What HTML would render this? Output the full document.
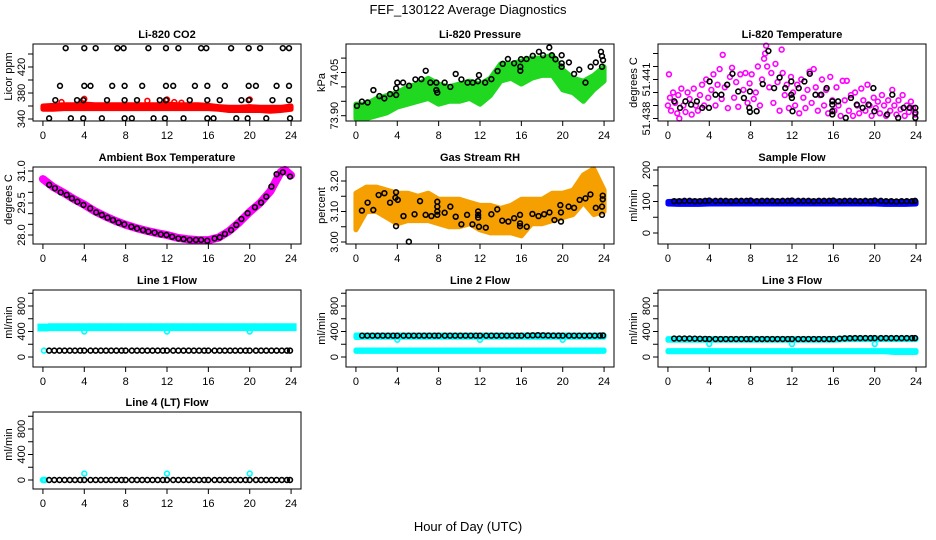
<!DOCTYPE html>
<html><head><meta charset="utf-8"><style>
html,body{margin:0;padding:0;background:#fff;}
svg{display:block;font-family:"Liberation Sans",Arial,sans-serif;}
</style></head><body>
<svg id="chart" width="936" height="540" viewBox="0 0 936 540">
<rect width="936" height="540" fill="#fff"/>
<text x="468" y="14" font-size="13" text-anchor="middle">FEF_130122  Average Diagnostics</text>
<text x="468" y="531" font-size="13" text-anchor="middle">Hour of Day (UTC)</text>
</svg>
<script>
// ---------- shared data ----------
const hours = [0,1,2,3,4,5,6,7,8,9,10,11,12,13,14,15,16,17,18,19,20,21,22,23,24];
const xTicks = [0,4,8,12,16,20,24];

// CO2
const co2BlackH = [2.2,4.0,5.1,7.2,7.8,10.2,11.9,13.1,15.3,15.8,18.2,19.9,21.0,23.2,23.8,
 1.65,4.0,4.6,6.7,7.9,9.6,11.9,12.6,14.7,15.9,17.6,19.9,20.6,22.6,23.8,
 1.2,3.3,3.9,6.2,7.9,9.1,11.3,11.9,14.2,15.9,17.1,19.2,19.9,22.2,23.8,
 0.6,2.7,3.9,5.7,7.9,8.6,10.7,11.8,13.6,15.9,16.5,18.7,19.8,21.6,23.9];
const co2BlackV = [449,449,449,449,449,449,449,449,449,449,449,449,449,449,449,
 391,391,391,391,391,391,391,391,391,391,391,391,391,391,391,
 369,369,369,369,369,369,369,369,369,369,369,369,369,369,369,
 341,341,341,341,341,341,341,341,341,341,341,341,341,341,341];
const co2BandLo = [355,355,356,356,356,356,356,356,356,356,356,356,356,356,356,356,356,355,353,353,353,353,352,353,355];
const co2BandHi = [360,361,362,362,363,362,362,362,362,362,362,362,363,362,362,362,361,359,358,358,359,358,358,358,360];
const co2RedH = [1.8,4.0,10.1,12.0,12.7,13.4,20.0];
const co2RedV = [366,371,368,370,366,365,370];

// Pressure
const presBandLo = [73.89,73.89,73.90,73.91,73.93,73.94,73.95,73.96,73.94,73.95,73.95,73.96,73.94,73.97,74.02,74.03,74.01,74.03,74.04,74.04,73.99,73.98,73.95,73.99,74.02];
const presBandHi = [73.94,73.94,73.96,73.97,73.98,74.00,74.01,74.03,74.01,74.00,74.01,74.02,74.01,74.03,74.08,74.08,74.09,74.10,74.10,74.11,74.06,74.03,74.02,74.04,74.07];
const presBlackH = [0.1,0.58,1.13,1.69,2.27,2.75,3.3,3.89,3.89,4.0,4.56,5.14,5.75,6.33,6.75,7.2,7.78,7.78,7.87,8.58,9.13,9.65,10.2,10.8,11.3,11.8,11.9,12.5,13.1,13.7,14.2,14.7,15.3,15.9,15.9,15.97,16.5,17.1,17.7,18.1,18.7,18.95,19.3,19.9,19.9,19.9,20.6,21.1,21.6,22.2,22.7,23.2,23.7,23.8,23.9,23.8];
const presBlackV = [73.934,73.949,73.946,73.989,73.968,73.960,73.975,73.972,73.995,74.015,74.015,74.004,74.026,74.027,74.056,74.015,74.015,73.989,73.980,74.015,74.000,74.045,74.026,74.015,74.015,74.020,74.041,74.015,74.027,74.055,74.080,74.097,74.082,74.070,74.056,74.096,74.097,74.108,74.122,74.110,74.137,74.110,74.096,74.082,74.070,74.110,74.085,74.045,74.060,74.015,74.070,74.085,74.122,74.107,74.093,74.070];

// Li-820 temperature (values = base + offset/1000)
const tempBase = 51.438;
const tempMagH = [0.0,0.1,0.2,0.3,0.5,0.7,0.9,1.0,1.1,1.3,1.5,1.7,1.9,2.1,2.3,2.5,2.7,2.9,3.1,3.3,3.5,3.7,3.9,4.2,4.4,4.6,4.8,5.0,5.2,5.3,5.5,5.8,6.0,6.2,6.4,6.6,6.8,7.0,7.3,7.5,7.7,7.9,8.1,8.3,8.5,8.7,8.9,9.1,9.3,9.4,9.5,9.6,9.8,10.0,10.2,10.4,10.6,10.8,11.0,11.1,11.3,11.5,11.7,11.9,12.1,12.3,12.5,12.7,12.9,13.1,13.3,13.5,13.7,13.9,14.1,14.3,14.5,14.7,14.9,15.1,15.3,15.5,15.7,15.9,16.1,16.3,16.5,16.7,16.9,17.1,17.3,17.5,17.7,17.9,18.1,18.3,18.5,18.7,18.9,19.1,19.3,19.5,19.7,19.9,20.1,20.3,20.5,20.7,20.9,21.1,21.3,21.5,21.7,21.9,22.1,22.3,22.5,22.7,22.9,23.1,23.3,23.5,23.7,23.9];
const tempMagOff = [1.0,3.4,1.6,0.6,2.0,1.2,0.4,1.8,0.0,2.3,1.0,0.5,2.0,1.5,0.3,2.3,1.0,0.6,1.8,2.6,1.0,3.0,1.6,2.2,3.4,1.0,2.6,3.8,1.5,4.9,2.4,0.8,3.2,3.9,1.6,2.8,0.9,3.4,2.2,3.5,1.2,2.7,3.4,1.5,2.0,4.0,1.0,3.0,4.6,5.0,5.6,4.0,2.4,3.5,1.2,4.2,2.8,0.6,5.3,3.5,1.8,2.6,0.8,3.2,2.0,1.0,2.6,0.4,3.0,1.6,0.8,2.2,3.6,1.2,3.8,2.4,0.6,1.8,3.0,1.0,2.2,0.4,3.2,1.4,0.6,2.4,1.0,0.2,2.9,1.4,2.9,0.6,1.8,0.2,2.0,1.0,0.4,2.3,1.4,0.6,2.6,1.0,0.2,1.6,0.8,1.3,0.4,1.8,1.0,0.2,1.4,0.6,2.2,1.0,0.3,1.4,0.7,1.8,0.2,1.0,0.5,1.3,0.8,0.3];
const tempBlackH = [0.62,1.17,1.69,2.24,2.8,3.32,3.97,4.03,4.6,5.17,5.73,6.24,6.8,7.35,7.93,7.87,7.93,8.58,9.17,9.72,10.27,10.8,11.35,11.93,11.99,12.05,11.93,12.65,13.2,13.72,14.27,14.83,15.35,15.9,15.9,15.9,15.9,16.46,17.2,17.7,18.27,18.83,19.4,19.97,19.87,21.2,21.7,22.27,22.8,23.38,23.93,23.93,23.93];
const tempBlackOff = [1.32,0.82,1.32,1.07,1.32,0.82,0.82,2.85,1.83,1.83,2.6,3.44,2.08,1.58,2.08,0.82,0.51,0.56,2.65,5.19,2.34,3.15,2.34,1.83,1.58,0.56,2.85,2.34,2.85,3.44,1.83,1.83,2.34,1.32,1.07,0.56,0.31,1.32,0.05,1.58,1.07,0.82,1.07,0.56,2.34,0.31,1.83,0.05,0.82,0.82,0.82,0.44,0.05];

// Ambient box temperature
const ambMagH = [0,1,2,3,4,5,6,7,8,9,10,11,12,13,14,15,16,17,18,19,20,21,22,23,23.4,24];
const ambMagV = [30.62,30.25,29.98,29.68,29.42,29.12,28.88,28.66,28.48,28.33,28.20,28.09,28.00,27.87,27.80,27.76,27.76,27.88,28.18,28.60,29.08,29.50,30.05,30.95,31.05,30.80];
const ambBlackH = [0.61,1.16,1.72,2.3,2.8,3.34,3.92,4.57,5.15,5.7,6.25,6.77,7.32,7.87,8.55,9.1,9.68,10.2,10.8,11.4,11.95,12.5,13.1,13.6,14.2,14.8,15.3,15.9,16.6,17.1,17.6,18.2,18.7,19.2,19.8,20.5,21.1,21.6,22.1,22.6,23.2,23.9];
const ambBlackV = [30.35,30.19,30.0,29.88,29.72,29.56,29.41,29.25,29.06,28.94,28.81,28.70,28.58,28.50,28.39,28.31,28.23,28.16,28.11,28.03,28.0,27.92,27.84,27.81,27.77,27.77,27.77,27.73,27.84,27.89,28.05,28.23,28.47,28.75,29.02,29.30,29.52,29.80,30.27,30.85,30.94,30.74];

// Gas stream RH
const rhBandLo = [3.04,3.10,3.10,3.08,3.06,3.07,3.07,3.07,3.06,3.05,3.05,3.06,3.04,3.03,3.03,3.03,3.02,3.06,3.06,3.07,3.08,3.09,3.13,3.09,3.10];
const rhBandHi = [3.16,3.18,3.18,3.17,3.16,3.16,3.15,3.16,3.14,3.14,3.14,3.13,3.12,3.12,3.11,3.12,3.14,3.14,3.14,3.16,3.16,3.17,3.22,3.24,3.17];
const rhBlackH = [0.58,1.13,1.68,2.2,2.75,3.3,3.82,3.88,3.88,4.05,4.6,5.12,5.67,6.2,6.74,7.3,7.87,7.87,7.87,7.87,8.58,9.13,9.65,10.2,10.75,11.27,11.82,11.82,11.82,11.9,12.56,13.1,13.67,14.15,14.74,15.3,15.87,15.87,15.87,16.52,17.07,17.66,18.2,18.72,19.2,19.83,19.83,19.77,20.57,21.1,21.64,22.2,22.68,23.2,23.8,23.8,23.87,23.87];
const rhBlackV = [3.103,3.129,3.105,3.154,3.160,3.129,3.145,3.163,3.052,3.138,3.085,3.001,3.091,3.134,3.089,3.085,3.132,3.116,3.089,3.100,3.096,3.116,3.083,3.058,3.089,3.058,3.100,3.089,3.080,3.050,3.047,3.091,3.107,3.070,3.067,3.078,3.089,3.061,3.052,3.050,3.092,3.085,3.091,3.097,3.072,3.067,3.097,3.121,3.116,3.112,3.138,3.143,3.156,3.112,3.116,3.089,3.152,3.140];

// Flows
const flowH = [0.6,1.1,1.6,2.1,2.6,3.1,3.6,4.0,4.6,5.1,5.6,6.1,6.6,7.1,7.6,8.0,8.6,9.1,9.6,10.1,10.6,11.1,11.6,12.0,12.6,13.1,13.6,14.1,14.6,15.1,15.6,16.0,16.6,17.1,17.6,18.1,18.6,19.1,19.6,20.0,20.6,21.1,21.6,22.1,22.6,23.1,23.6,23.9];
const sampleBlackV = [101,101,102,102,101,101,102,103,102,102,102,101,102,102,102,103,101,102,102,102,101,102,102,103,102,102,102,101,102,102,102,103,101,102,102,102,101,102,101,103,102,101,101,100,101,101,101,102];
const sampleBandLo = [92,91,91,91,92,92,92,92,92,92,92,92,92,92,92,92,92,92,92,92,92,91,91,91,92];
const sampleBandHi = [100,101,101,101,101,101,101,101,101,101,101,101,101,101,101,101,101,101,101,101,101,100,100,100,100];
const line1BlackV = [100,100,100,100,100,100,100,100,100,100,100,100,100,100,100,100,100,100,100,100,100,100,100,100,100,100,100,100,100,100,100,100,100,100,100,100,100,100,100,100,100,100,100,100,100,100,100,100];
const line2BlackV = [335,335,335,335,335,335,335,335,335,335,335,335,335,335,335,335,335,335,335,335,335,335,335,335,335,335,335,335,335,335,335,335,338,340,342,340,338,336,336,335,335,335,335,335,335,335,336,338];
const line3BlackV = [290,290,290,290,288,286,284,282,282,282,282,282,282,282,282,282,282,282,282,282,282,282,282,282,282,282,282,282,282,282,282,282,288,292,295,296,296,296,296,296,296,296,296,296,296,296,296,296];
const line4BlackV = [0,0,0,0,0,0,0,0,0,0,0,0,0,0,0,0,0,0,0,0,0,0,0,0,0,0,0,0,0,0,0,0,0,0,0,0,0,0,0,0,0,0,0,0,0,0,0,0];
const line1CyanLo = [440,445,445,445,445,445,445,445,445,445,445,445,445,445,445,445,445,445,445,445,445,445,445,445,445];
const line1CyanHi = [485,490,490,490,490,490,490,490,490,490,490,490,490,490,490,490,490,490,490,490,490,490,490,490,490];
const line2CyanLo = [305,310,310,310,310,310,310,310,310,310,310,310,310,310,310,310,310,310,310,310,310,310,310,310,310];
const line2CyanHi = [345,345,345,345,345,345,345,345,345,345,345,345,345,345,345,345,345,345,345,345,345,345,345,345,345];
const line2CyanLo2 = [88,88,88,88,88,88,88,88,88,88,88,88,88,88,88,88,88,88,88,88,88,88,88,88,88];
const line2CyanHi2 = [110,110,110,110,110,110,110,110,110,110,110,110,110,110,110,110,110,110,110,110,110,110,110,110,110];
const line3CyanLo = [262,262,262,262,262,262,262,262,262,262,262,262,262,262,262,262,262,270,272,272,272,272,272,272,272];
const line3CyanHi = [288,288,288,288,288,288,288,288,288,288,288,288,288,288,288,288,288,296,298,298,298,298,298,298,298];
const line3CyanLo2 = [82,82,82,82,82,82,82,82,82,82,82,82,82,82,82,82,82,82,82,82,82,82,70,70,70];
const line3CyanHi2 = [100,100,100,100,100,100,100,100,100,100,100,100,100,100,100,100,100,100,100,100,100,100,100,100,100];
const lineDipH = [4,12,20];
const line1DipV = [400,400,400];
const line2DipV = [270,270,270];
const line3DipV = [205,205,205];
const line4DipV = [100,100,100];

// ---------- drawing ----------
const NS = 'http://www.w3.org/2000/svg';
const svg = document.getElementById('chart');
const colX = [33,346,658], rowY = [44,167,290,412], BW = 268, BH = 77;
const CYAN = '#00ffff';
function mk(tag, attrs, parent){
  const e = document.createElementNS(NS, tag);
  for (const k in attrs) e.setAttribute(k, attrs[k]);
  (parent||svg).appendChild(e);
  return e;
}
function panel(col,row,name,title,ylab,yA,pA,yB,pB,ticks,labVals,labTxt){
  const g = mk('g',{});
  
  
  const bx = colX[col], by = rowY[row];
  const X = h => bx + (h+0.96)/25.92*BW;
  const Y = v => pA + (v-yA)*(pB-pA)/(yB-yA);
  const t = mk('text',{x:bx+BW/2,y:by-6,'font-size':11,'font-weight':'bold','text-anchor':'middle'},g);
  t.textContent = title;
  
  
  const yl = mk('text',{x:0,y:0,'font-size':11,'text-anchor':'middle',transform:`translate(${bx-21},${by+BH/2+(col==0?-6:0)}) rotate(-90)`},g);
  yl.textContent = ylab;
  
  
  const plot = mk('g',{},g);
  
  
  const box = mk('rect',{x:bx,y:by,width:BW,height:BH,fill:'none',stroke:'#000','stroke-width':1},g);
  
  
  xTicks.forEach(h=>{
    mk('line',{x1:X(h),x2:X(h),y1:by+BH,y2:by+BH+5,stroke:'#000'},g);
    const tl = mk('text',{x:X(h),y:by+BH+18,'font-size':11,'text-anchor':'middle'},g);
    tl.textContent = h;
    
    
  });
  ticks.forEach(v=>{ mk('line',{x1:bx-5,x2:bx,y1:Y(v),y2:Y(v),stroke:'#000'},g); });
  labVals.forEach((v,i)=>{
    const tl = mk('text',{x:0,y:0,'font-size':11,'text-anchor':'middle',transform:`translate(${bx-8},${Y(v)}) rotate(-90)`},g);
    tl.textContent = labTxt[i];
    
    
  });
  return {g:plot,X,Y};
}
function band(p,hs,lo,hi,color,name){
  const d = hs.map((h,i)=>(i?'L':'M')+p.X(h)+' '+p.Y(hi[i])).join(' ') + ' ' +
            hs.slice().reverse().map((h,j)=>'L'+p.X(h)+' '+p.Y(lo[hs.length-1-j])).join(' ') + ' Z';
  const e = mk('path',{d:d},p.g);
  e.style.fill = color;
  e.style.stroke = color;
  e.style.strokeWidth = '5';
  e.style.strokeLinejoin = 'round';
  
  
}
function stripe(p,hs,lo,hi,color,name){
  // vertical segments per hour, wide enough to merge into a band
  hs.forEach((h,i)=>{
    const s = mk('line',{x1:p.X(h),x2:p.X(h),y1:p.Y(lo[i])+2.5,y2:p.Y(hi[i])-2.5},p.g);
    s.style.stroke = color;
    s.style.strokeWidth = '11';
    s.style.strokeLinecap = 'butt';
    
    
  });
}
function pts(p,hs,vs,color,name,sw){
  hs.forEach((h,i)=>{
    const c = mk('circle',{cx:p.X(h),cy:p.Y(vs[i]),r:2.4,fill:'none',stroke:color,'stroke-width':sw||1.6},p.g);
    
    
  });
}

// CO2
let p = panel(0,0,'co2','Li-820 CO2','Licor ppm',340,119,420,67,[340,360,380,400,420,440],[340,380,420],['340','380','420']);
band(p,hours,co2BandLo,co2BandHi,'#ff0000','co2-red-band');
pts(p,co2RedH,co2RedV,'#ff0000','co2-red-point');
pts(p,co2BlackH,co2BlackV,'#000','co2-black-point');

// Pressure
p = panel(1,0,'pressure','Li-820 Pressure','kPa',73.90,115.7,74.10,58.1,[73.90,73.95,74.00,74.05,74.10],[73.90,74.05],['73.90','74.05']);
band(p,hours,presBandLo,presBandHi,'#1fd81f','pressure-green-band');
pts(p,presBlackH,presBlackV,'#000','pressure-black-point');

// Li-820 temperature
const tempBlackV = tempBlackOff.map(d=>tempBase+d/1000);
const tempMagV = tempMagOff.map(d=>tempBase+d/1000);
p = panel(2,0,'li820-temp','Li-820 Temperature','degrees C',51.438,118.5,51.441,79.5,[51.438,51.439,51.440,51.441,51.442,51.443],[51.438,51.441],['51.438','51.441']);
pts(p,tempMagH,tempMagV,'#ff00ff','temp-magenta-point');
pts(p,tempBlackH,tempBlackV,'#000','temp-black-point');

// Ambient
p = panel(0,1,'ambient-temp','Ambient Box Temperature','degrees C',28.0,235,31.0,171,[28.0,28.5,29.0,29.5,30.0,30.5,31.0],[28.0,29.5,31.0],['28.0','29.5','31.0']);
const ml = mk('polyline',{points:ambMagH.map((h,i)=>p.X(h)+','+p.Y(ambMagV[i])).join(' '),fill:'none',stroke:'#ff00ff','stroke-width':8,'stroke-linejoin':'round','stroke-linecap':'round'},p.g);


pts(p,ambBlackH,ambBlackV,'#000','ambient-black-point');

// RH
p = panel(1,1,'rh','Gas Stream RH','percent',3.00,242,3.20,181,[3.00,3.05,3.10,3.15,3.20],[3.00,3.10,3.20],['3.00','3.10','3.20']);
band(p,hours,rhBandLo,rhBandHi,'#f5a000','rh-orange-band');
pts(p,rhBlackH,rhBlackV,'#000','rh-black-point');

// Sample flow
p = panel(2,1,'sample-flow','Sample Flow','ml/min',0,233,200,170,[0,50,100,150,200],[0,100,200],['0','100','200']);
band(p,hours,sampleBandLo,sampleBandHi,'#0000ff','sample-blue-band');
pts(p,flowH,sampleBlackV,'#000','sample-black-point');

// Line flows
const lt = [0,200,400,600,800,1000], lv=[0,400,800], lx=['0','400','800'];
p = panel(0,2,'line1-flow','Line 1 Flow','ml/min',0,357,800,306,lt,lv,lx);
stripe(p,hours,line1CyanLo,line1CyanHi,'rgb(0,255,255)','line1-cyan-band');
pts(p,lineDipH,line1DipV,CYAN,'line1-cyan-point');
pts(p,[0.1],[100],CYAN,'line1-cyan-point');
pts(p,flowH,line1BlackV,'#000','line1-black-point');

p = panel(1,2,'line2-flow','Line 2 Flow','ml/min',0,357,800,306,lt,lv,lx);
band(p,hours,line2CyanLo,line2CyanHi,CYAN,'line2-cyan-band');
band(p,hours,line2CyanLo2,line2CyanHi2,CYAN,'line2-cyan-low-band');
pts(p,lineDipH,line2DipV,CYAN,'line2-cyan-point');
pts(p,flowH,line2BlackV,'#000','line2-black-point');

p = panel(2,2,'line3-flow','Line 3 Flow','ml/min',0,357,800,306,lt,lv,lx);
band(p,hours,line3CyanLo,line3CyanHi,CYAN,'line3-cyan-band');
band(p,hours,line3CyanLo2,line3CyanHi2,CYAN,'line3-cyan-low-band');
pts(p,lineDipH,line3DipV,CYAN,'line3-cyan-point');
pts(p,flowH,line3BlackV,'#000','line3-black-point');

p = panel(0,3,'line4-flow','Line 4 (LT) Flow','ml/min',0,480,800,429,lt,lv,lx);
pts(p,[0,0.1,0.2],[0,0,0],CYAN,'line4-cyan-point');
pts(p,lineDipH,line4DipV,CYAN,'line4-cyan-point');
pts(p,flowH,line4BlackV,'#000','line4-black-point');
</script>
</body></html>
